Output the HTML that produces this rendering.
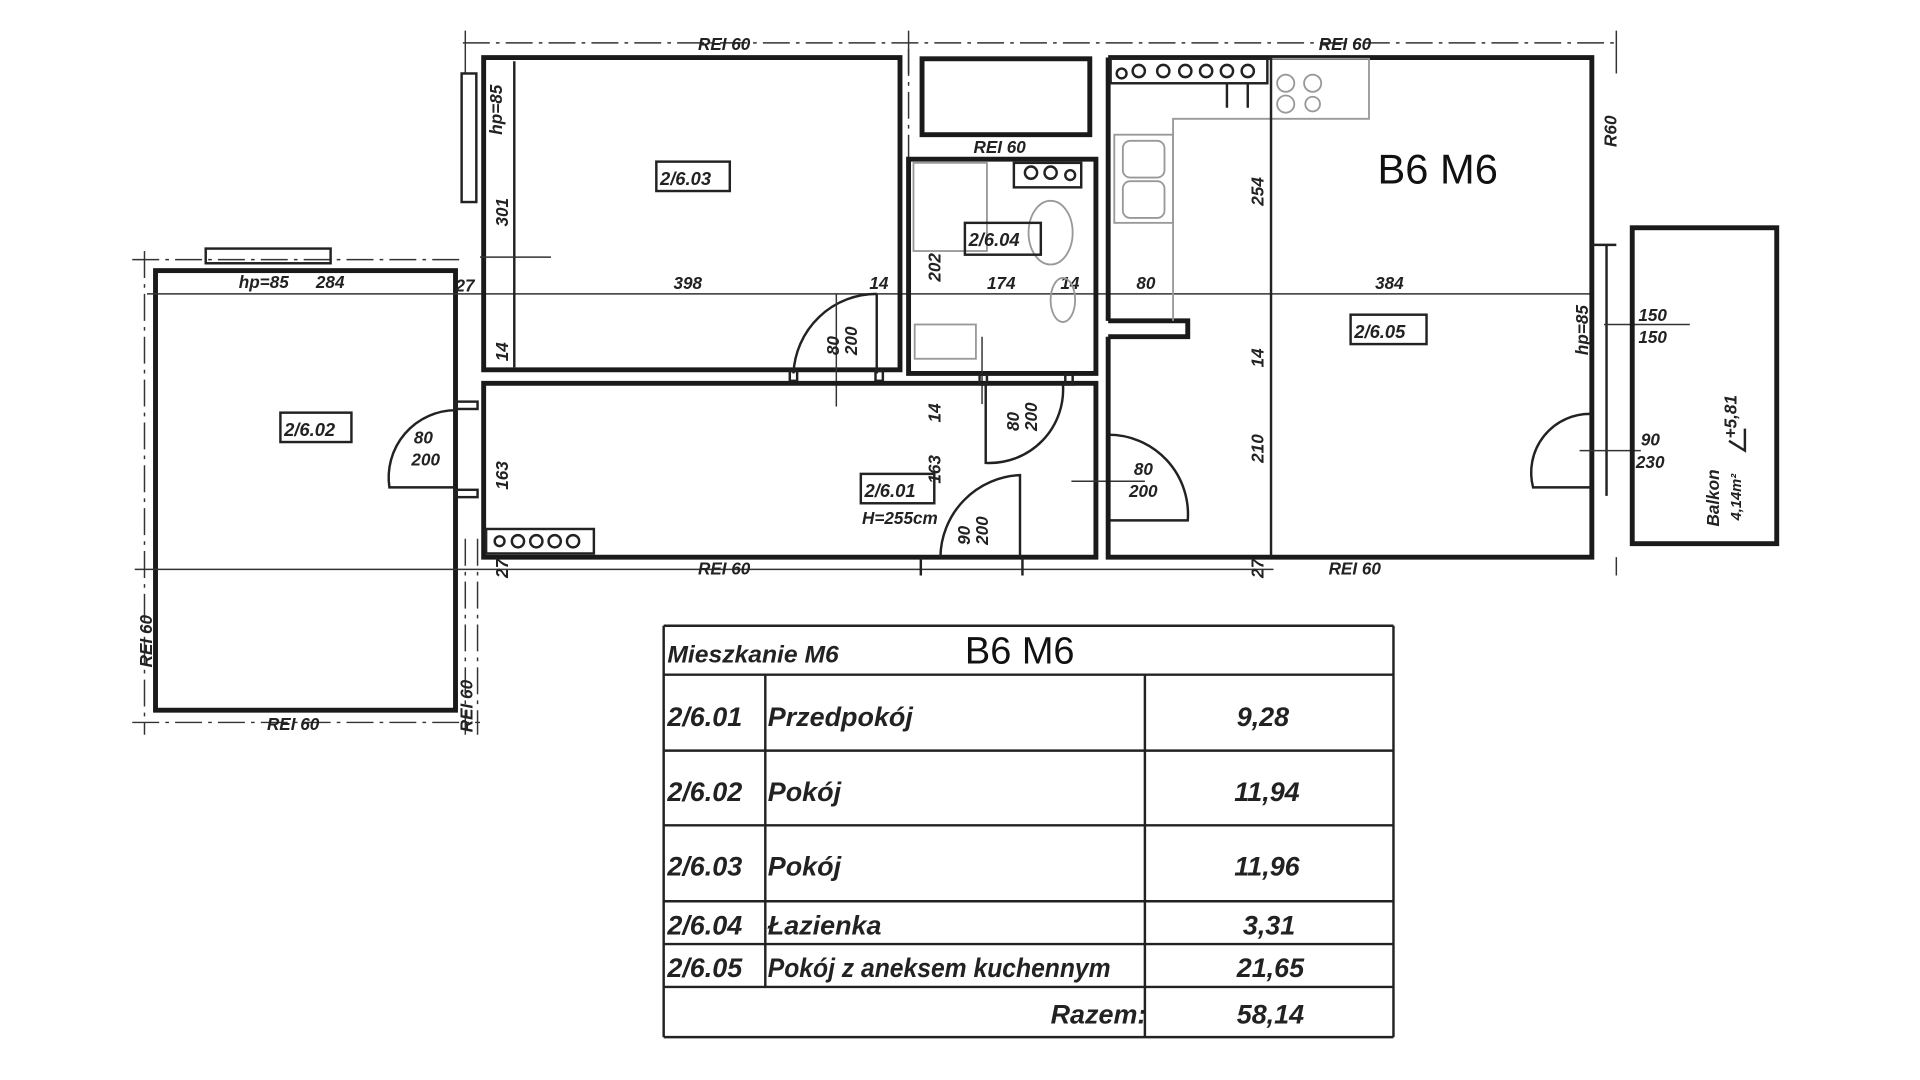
<!DOCTYPE html>
<html><head><meta charset="utf-8"><style>
html,body{margin:0;padding:0;background:#fff;width:1920px;height:1080px;overflow:hidden}
svg{display:block}
text{font-family:"Liberation Sans",sans-serif;font-style:italic;font-weight:bold;fill:#222}
.t{font-size:15px}
.r{font-size:14px}
.w{fill:none;stroke:#1a1a1a;stroke-width:4}
.m{fill:none;stroke:#222;stroke-width:2}
.d{fill:none;stroke:#333;stroke-width:1.2}
.g{fill:none;stroke:#999;stroke-width:1.5}
.dd{fill:none;stroke:#333;stroke-width:1.2;stroke-dasharray:22 5 3 5}
</style></head><body>
<svg width="1920" height="1080" viewBox="0 0 1568 882" preserveAspectRatio="none" xmlns="http://www.w3.org/2000/svg">
<line class="dd" x1="378" y1="35" x2="1322" y2="35"/>
<line class="d" x1="380" y1="25" x2="380" y2="60"/>
<line class="d" x1="742" y1="25" x2="742" y2="60"/>
<line class="d" x1="1320" y1="25" x2="1320" y2="60"/>
<text class="r" x="570" y="41">REI 60</text>
<text class="r" x="1077" y="41">REI 60</text>

<line class="dd" x1="108" y1="212" x2="380" y2="212"/>
<line class="dd" x1="118" y1="205" x2="118" y2="600"/>
<line class="dd" x1="108" y1="590" x2="392" y2="590"/>
<line class="dd" x1="380" y1="440" x2="380" y2="600"/>
<line class="dd" x1="390" y1="440" x2="390" y2="600"/>
<rect class="w" x="127" y="221" width="245" height="359"/>
<rect class="m" x="168" y="203" width="102" height="12"/>
<rect class="m" x="229" y="337" width="58" height="24"/>
<text class="t" x="232" y="356">2/6.02</text>
<text class="r" x="195" y="235">hp=85</text>
<text class="r" x="258" y="235">284</text>
<text class="r" x="218" y="596">REI 60</text>
<text class="r" transform="translate(124,545) rotate(-90)">REI 60</text>
<text class="r" transform="translate(386,598) rotate(-90)">REI 60</text>
<path class="m" d="M372,335 A55,55 0 0 0 318,398 L372,398"/>
<rect class="m" x="372" y="328" width="18" height="6"/>
<rect class="m" x="372" y="400" width="18" height="6"/>
<text class="r" x="338" y="362">80</text>
<text class="r" x="336" y="380">200</text>

<line class="d" x1="120" y1="240" x2="1300" y2="240"/>
<line class="d" x1="110" y1="465" x2="1040" y2="465"/>
<text class="r" x="372" y="238">27</text>
<text class="r" x="550" y="236">398</text>
<text class="r" x="710" y="236">14</text>
<text class="r" x="806" y="236">174</text>
<text class="r" x="866" y="236">14</text>
<text class="r" x="928" y="236">80</text>
<text class="r" x="1123" y="236">384</text>

<path class="w" d="M395,47 L735,47 L735,302 L395,302 Z"/>
<line class="m" x1="420" y1="50" x2="420" y2="300"/>
<rect class="m" x="377" y="60" width="12" height="105"/>
<line class="d" x1="392" y1="210" x2="450" y2="210"/>
<rect class="m" x="536" y="132" width="60" height="24"/>
<text class="t" x="539" y="151">2/6.03</text>
<text class="r" transform="translate(410,110) rotate(-90)">hp=85</text>
<text class="r" transform="translate(415,185) rotate(-90)">301</text>
<text class="r" transform="translate(415,295) rotate(-90)">14</text>
<path class="m" d="M716,240 A68,68 0 0 0 648,305"/>
<line class="m" x1="716" y1="240" x2="716" y2="305"/>
<rect class="m" x="645" y="303" width="6" height="8"/>
<rect class="m" x="715" y="303" width="6" height="8"/>
<line class="d" x1="683" y1="240" x2="683" y2="332"/>
<text class="r" transform="translate(685,290) rotate(-90)">80</text>
<text class="r" transform="translate(700,290) rotate(-90)">200</text>

<rect class="w" x="753" y="48" width="137" height="62"/>
<line class="dd" x1="742" y1="40" x2="742" y2="300"/>
<text class="r" x="795" y="125">REI 60</text>

<path class="w" d="M742,130 L895,130 L895,305 L742,305 Z"/>
<rect class="g" x="746" y="133" width="60" height="72"/>
<rect class="m" x="828" y="133" width="55" height="20"/>
<circle class="m" cx="842" cy="141" r="5"/><circle class="m" cx="858" cy="141" r="5"/><circle class="m" cx="874" cy="143" r="4"/>
<ellipse class="g" cx="858" cy="190" rx="18" ry="26"/>
<ellipse class="g" cx="868" cy="245" rx="10" ry="18"/>
<rect class="g" x="747" y="265" width="50" height="28"/>
<rect class="m" x="788" y="182" width="62" height="26"/>
<text class="t" x="791" y="201">2/6.04</text>
<text class="r" transform="translate(768,230) rotate(-90)">202</text>
<line class="d" x1="802" y1="275" x2="802" y2="330"/>

<path class="w" d="M395,313 L895,313 L895,455 L395,455 Z"/>
<rect class="m" x="397" y="432" width="88" height="20"/>
<circle class="m" cx="408" cy="442" r="4"/><circle class="m" cx="423" cy="442" r="5"/><circle class="m" cx="438" cy="442" r="5"/><circle class="m" cx="453" cy="442" r="5"/><circle class="m" cx="468" cy="442" r="5"/>
<text class="r" transform="translate(415,400) rotate(-90)">163</text>
<text class="r" transform="translate(415,472) rotate(-90)">27</text>
<text class="r" transform="translate(768,345) rotate(-90)">14</text>
<text class="r" transform="translate(768,395) rotate(-90)">163</text>
<rect class="m" x="703" y="387" width="60" height="24"/>
<text class="t" x="706" y="406">2/6.01</text>
<text class="r" x="704" y="428">H=255cm</text>
<text class="r" x="570" y="469">REI 60</text>
<path class="m" d="M805,313 L805,378 A60,60 0 0 0 868,313"/>
<text class="r" transform="translate(832,352) rotate(-90)">80</text>
<text class="r" transform="translate(847,352) rotate(-90)">200</text>
<rect class="m" x="800" y="306" width="6" height="8"/><rect class="m" x="870" y="306" width="6" height="8"/>
<path class="m" d="M833,455 L833,388 A68,68 0 0 0 768,455"/>
<text class="r" transform="translate(792,445) rotate(-90)">90</text>
<text class="r" transform="translate(807,445) rotate(-90)">200</text>
<line class="m" x1="752" y1="455" x2="752" y2="470"/><line class="m" x1="835" y1="455" x2="835" y2="470"/>
<path class="m" d="M905,355 A65,65 0 0 1 970,425 L905,425"/>
<line class="d" x1="875" y1="393" x2="935" y2="393"/>
<text class="r" x="926" y="388">80</text>
<text class="r" x="922" y="406">200</text>

<path class="w" d="M905,47 L1300,47 L1300,455 L905,455 L905,275 M905,262 L905,47"/>
<path class="w" d="M905,262 L970,262 L970,275 L905,275"/>
<rect class="m" x="907" y="48" width="128" height="20"/>
<circle class="m" cx="916" cy="60" r="4"/><circle class="m" cx="930" cy="58" r="5"/><circle class="m" cx="950" cy="58" r="5"/><circle class="m" cx="968" cy="58" r="5"/><circle class="m" cx="985" cy="58" r="5"/><circle class="m" cx="1002" cy="58" r="5"/><circle class="m" cx="1019" cy="58" r="5"/>
<line class="m" x1="1002" y1="68" x2="1002" y2="88"/><line class="m" x1="1019" y1="68" x2="1019" y2="88"/>
<path class="g" d="M1037,48 L1118,48 L1118,97 L958,97 L958,262"/>
<circle class="g" cx="1050" cy="68" r="7"/><circle class="g" cx="1072" cy="68" r="7"/><circle class="g" cx="1050" cy="85" r="7"/><circle class="g" cx="1072" cy="85" r="6"/>
<rect class="g" x="910" y="110" width="48" height="72"/>
<rect class="g" x="917" y="115" width="34" height="30" rx="6"/><rect class="g" x="917" y="148" width="34" height="30" rx="6"/>
<line class="m" x1="1038" y1="47" x2="1038" y2="455"/>
<text class="r" transform="translate(1032,168) rotate(-90)">254</text>
<text class="r" transform="translate(1032,300) rotate(-90)">14</text>
<text class="r" transform="translate(1032,378) rotate(-90)">210</text>
<text class="r" transform="translate(1032,472) rotate(-90)">27</text>
<text class="r" transform="translate(1320,120) rotate(-90)">R60</text>
<text style="font-family:'Liberation Sans',sans-serif;font-style:normal;font-weight:normal;font-size:34px;fill:#111" x="1125" y="150">B6 M6</text>
<rect class="m" x="1103" y="257" width="62" height="24"/>
<text class="t" x="1106" y="276">2/6.05</text>
<text class="r" x="1085" y="469">REI 60</text>
<text class="r" transform="translate(1297,290) rotate(-90)">hp=85</text>
<line class="m" x1="1300" y1="200" x2="1320" y2="200"/>
<line class="m" x1="1312" y1="200" x2="1312" y2="405"/>
<path class="m" d="M1300,338 A48,48 0 0 0 1252,398 L1300,398"/>
<line class="d" x1="1290" y1="368" x2="1340" y2="368"/>
<text class="r" x="1340" y="364">90</text>
<text class="r" x="1336" y="382">230</text>
<line class="d" x1="1310" y1="265" x2="1380" y2="265"/>
<text class="r" x="1338" y="262">150</text>
<text class="r" x="1338" y="280">150</text>
<line class="d" x1="1320" y1="455" x2="1320" y2="470"/>

<rect class="w" x="1333" y="186" width="118" height="258"/>
<text class="r" transform="translate(1404,430) rotate(-90)">Balkon</text>
<text class="r" style="font-size:12px" transform="translate(1422,425) rotate(-90)">4,14m²</text>
<text class="r" transform="translate(1418,358) rotate(-90)">+5,81</text>
<path class="m" d="M1425,350 L1425,368 L1412,360"/>

<g>
<line class="m" x1="542" y1="511" x2="1138" y2="511"/>
<line class="m" x1="542" y1="511" x2="542" y2="847"/>
<line class="m" x1="1138" y1="511" x2="1138" y2="847"/>
<line class="m" x1="542" y1="551" x2="1138" y2="551"/>
<line class="m" x1="542" y1="613" x2="1138" y2="613"/>
<line class="m" x1="542" y1="674" x2="1138" y2="674"/>
<line class="m" x1="542" y1="736" x2="1138" y2="736"/>
<line class="m" x1="542" y1="771" x2="1138" y2="771"/>
<line class="m" x1="542" y1="806" x2="1138" y2="806"/>
<line class="m" x1="542" y1="847" x2="1138" y2="847"/>
<line class="m" x1="625" y1="551" x2="625" y2="806"/>
<line class="m" x1="935" y1="551" x2="935" y2="847"/>
<g style="font-size:22px">
<text x="545" y="541" style="font-size:20px" textLength="140" lengthAdjust="spacingAndGlyphs">Mieszkanie M6</text>
<text x="545" y="593">2/6.01</text><text x="627" y="593">Przedpokój</text><text x="1010" y="593">9,28</text>
<text x="545" y="654">2/6.02</text><text x="627" y="654">Pokój</text><text x="1008" y="654">11,94</text>
<text x="545" y="715">2/6.03</text><text x="627" y="715">Pokój</text><text x="1008" y="715">11,96</text>
<text x="545" y="763">2/6.04</text><text x="627" y="763">Łazienka</text><text x="1015" y="763">3,31</text>
<text x="545" y="798">2/6.05</text><text x="627" y="798" textLength="280" lengthAdjust="spacingAndGlyphs">Pokój z aneksem kuchennym</text><text x="1010" y="798">21,65</text>
<text x="858" y="836">Razem:</text><text x="1010" y="836">58,14</text>
</g>
<text style="font-family:'Liberation Sans',sans-serif;font-style:normal;font-weight:normal;font-size:31px;fill:#111" x="788" y="542">B6 M6</text>
</g>
</svg>
</body></html>
